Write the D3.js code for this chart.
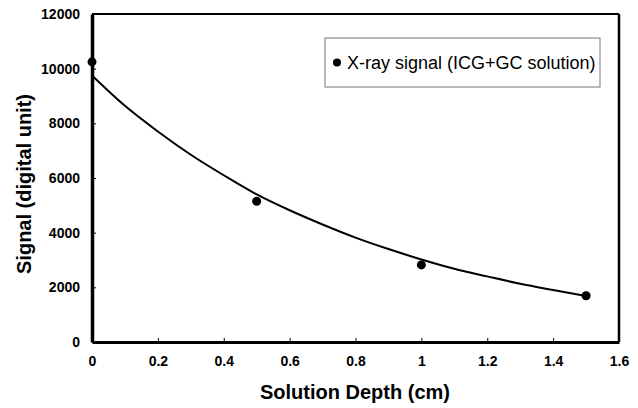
<!DOCTYPE html>
<html>
<head>
<meta charset="utf-8">
<script src="https://cdn.jsdelivr.net/npm/d3@7"></script>
<style>
  body { margin: 0; background: #fff; }
  text { font-family: Arial, "Liberation Sans", sans-serif; }
</style>
</head>
<body>
<script>
width  = 638
height = 408

// measured points
depth  = [0, 0.5, 1.0, 1.5]
signal = [10250, 5150, 2820, 1690]

// fitted curve
fitX = [0, 0.1, 0.2, 0.3, 0.4, 0.5, 0.6, 0.7, 0.8, 0.9, 1.0, 1.1, 1.2, 1.3, 1.4, 1.5]
fitY = [9750, 8640, 7700, 6850, 6100, 5400, 4820, 4300, 3820, 3400, 3020, 2680, 2400, 2130, 1900, 1680]

xTicks = [0, 0.2, 0.4, 0.6, 0.8, 1, 1.2, 1.4, 1.6]
yTicks = [0, 2000, 4000, 6000, 8000, 10000, 12000]

legendLabel = "X-ray signal (ICG+GC solution)"

const margin = {left: 92, right: 19, top: 14, bottom: 66}

const x = d3.scaleLinear().domain([0, 1.6]).range([margin.left, width - margin.right])
const y = d3.scaleLinear().domain([0, 12000]).range([height - margin.bottom, margin.top])

const svg = d3.select('body').append('svg')
  .attr('width', width)
  .attr('height', height)

// frame (top + right thinner than the axes)
svg.append('line')
  .attr('x1', x(0)).attr('x2', x(1.6))
  .attr('y1', y(12000)).attr('y2', y(12000))
  .attr('stroke', '#000').attr('stroke-width', 2)
svg.append('line')
  .attr('x1', x(1.6)).attr('x2', x(1.6))
  .attr('y1', y(12000)).attr('y2', y(0))
  .attr('stroke', '#000').attr('stroke-width', 2.5)

const xAxis = svg.append('g')
  .attr('transform', `translate(0,${y(0)})`)
  .call(d3.axisBottom(x).tickValues(xTicks).tickSizeInner(-4).tickSizeOuter(0)
    .tickPadding(14).tickFormat(d => d3.format('')(d)))
xAxis.select('.domain').attr('stroke-width', 3)
xAxis.selectAll('.tick line').attr('stroke-width', 1)
xAxis.selectAll('text')
  .attr('font-size', 14).attr('font-weight', 'bold').attr('fill', '#000')
  .style('font-family', 'Arial, "Liberation Sans", sans-serif')

const yAxis = svg.append('g')
  .attr('transform', `translate(${x(0)},0)`)
  .call(d3.axisLeft(y).tickValues(yTicks).tickSizeInner(-4).tickSizeOuter(0)
    .tickPadding(12).tickFormat(d3.format('d')))
yAxis.select('.domain').attr('stroke-width', 3.5)
yAxis.selectAll('.tick line').attr('stroke-width', 1)
yAxis.selectAll('text')
  .attr('font-size', 14).attr('font-weight', 'bold').attr('fill', '#000')
  .style('font-family', 'Arial, "Liberation Sans", sans-serif')

// axis titles
svg.append('text')
  .attr('x', 355).attr('y', 399)
  .attr('text-anchor', 'middle')
  .attr('font-size', 20).attr('font-weight', 'bold')
  .text('Solution Depth (cm)')

svg.append('text')
  .attr('transform', `translate(31,184) rotate(-90)`)
  .attr('text-anchor', 'middle')
  .attr('font-size', 20).attr('font-weight', 'bold')
  .text('Signal (digital unit)')

// fit curve
const line = d3.line()
  .x(d => x(d[0]))
  .y(d => y(d[1]))
  .curve(d3.curveMonotoneX)

svg.append('path')
  .datum(fitX.map((v, i) => [v, fitY[i]]))
  .attr('d', line)
  .attr('fill', 'none')
  .attr('stroke', '#000')
  .attr('stroke-width', 2)

// points
svg.append('g')
  .selectAll('circle')
  .data(depth.map((v, i) => [v, signal[i]]))
  .enter().append('circle')
    .attr('cx', d => x(d[0]))
    .attr('cy', d => y(d[1]))
    .attr('r', 4.5)
    .attr('fill', '#000')

// legend
const lg = svg.append('g').attr('transform', 'translate(325,38)')
lg.append('rect')
  .attr('width', 275).attr('height', 49)
  .attr('fill', '#fff')
  .attr('stroke', '#777').attr('stroke-width', 1)
lg.append('circle')
  .attr('cx', 12).attr('cy', 24.5).attr('r', 4)
  .attr('fill', '#000')
lg.append('text')
  .attr('x', 22).attr('y', 31)
  .attr('font-size', 18)
  .text(legendLabel)
</script>
</body>
</html>
